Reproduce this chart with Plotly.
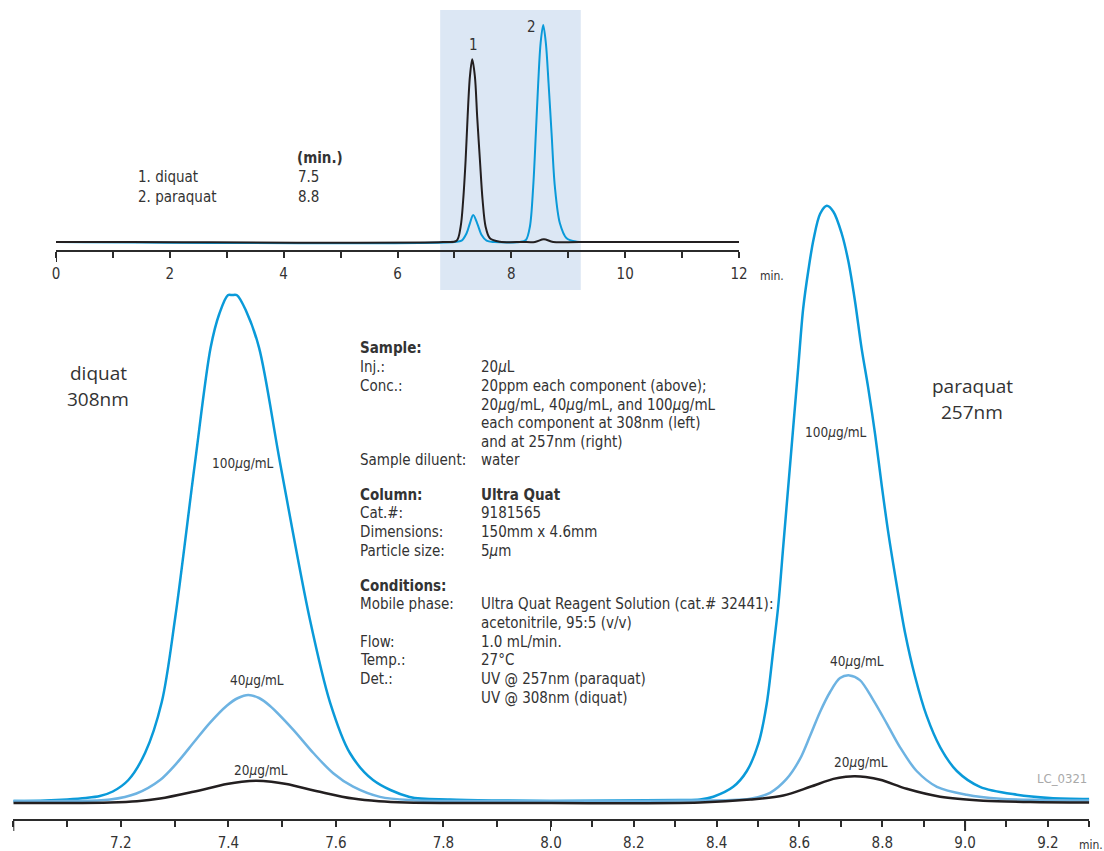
import plotly.graph_objects as go

W, H = 1104, 851

# ---------------- data (response in arbitrary units) ----------------
# Overview chromatogram 0-12 min
top_black_t = [0.0, 1.3, 6.8, 7.038, 7.109, 7.154, 7.197, 7.232, 7.272, 7.313, 7.360, 7.400,
               7.448, 7.495, 7.548, 7.623, 7.799, 8.2, 8.414, 8.572, 8.735, 9.2, 12.0]
top_black_y = [0, 0, 0, 1.3, 15.3, 42, 82, 125.3, 165.3, 182.7, 165.3, 125.3,
               82, 42, 15.3, 3.7, 0.3, 0, 0, 2.7, 0, 0, 0]
top_blue_t = [0.0, 7.0, 7.126, 7.214, 7.272, 7.330, 7.400, 7.478, 7.565, 7.7, 8.15, 8.256,
              8.326, 8.384, 8.431, 8.472, 8.514, 8.560, 8.607, 8.654, 8.707, 8.765, 8.853,
              8.971, 9.146, 9.4, 12.0]
top_blue_y = [0, 0, 1.3, 8.7, 18.7, 27, 18.7, 7, 1.3, 0, 0, 2,
              15.3, 55.3, 108.7, 158.7, 198.7, 217, 198.7, 158.7, 108.7, 55.3, 18.7,
              3.7, 0.3, 0, 0]

# Diquat at 308nm (left expanded axis, 7.0-8.0 min)
dq100_t = [7.000, 7.060, 7.100, 7.135, 7.161, 7.185, 7.214, 7.245, 7.276, 7.301, 7.338, 7.367,
           7.383, 7.399, 7.407, 7.416, 7.433, 7.457, 7.496, 7.551, 7.589, 7.626, 7.669, 7.737,
           7.812, 7.905, 8.000]
dq100_y = [0, 0.5, 1.5, 3, 5, 9.5, 21, 48, 98.7, 183, 338.6, 453.4,
           487, 505.8, 506, 505.8, 490, 453.4, 338.6, 183, 98.7, 48, 21, 4,
           1.5, 0.5, 0]
dq40_t = [7.000, 7.100, 7.180, 7.229, 7.273, 7.304, 7.335, 7.366, 7.397, 7.418, 7.437, 7.457,
          7.477, 7.520, 7.558, 7.595, 7.632, 7.682, 7.743, 7.849, 8.000]
dq40_y = [0, 0, 1.5, 7.5, 21, 37.9, 58.2, 78.4, 95.3, 103, 106, 103,
          95.3, 71.7, 48, 27.8, 14.3, 4.1, 0.8, 0, 0]
dq20_t = [7.000, 7.100, 7.180, 7.230, 7.273, 7.335, 7.397, 7.425, 7.452, 7.480, 7.508, 7.570,
          7.632, 7.680, 7.730, 7.850, 8.000]
dq20_y = [-2, -2, -1.5, -0.3, 2.4, 9.2, 16.9, 19.3, 20.3, 19.3, 16.9, 9.2,
          2.4, -0.3, -1.5, -2, -2]

# Paraquat at 257nm (right expanded axis, 8.0-9.3 min)
pq100_t = [8.000, 8.167, 8.312, 8.360, 8.392, 8.440, 8.473, 8.501, 8.521, 8.537, 8.549, 8.561,
           8.573, 8.585, 8.597, 8.609, 8.622, 8.634, 8.650, 8.666, 8.682, 8.702, 8.718, 8.734,
           8.750, 8.766, 8.783, 8.799, 8.815, 8.835, 8.855, 8.879, 8.907, 8.940, 8.980, 9.036,
           9.125, 9.205, 9.300]
pq100_y = [0, 0.5, 1, 1.5, 4.3, 14.2, 30, 57.6, 97.2, 152, 196, 255.3,
           314.6, 373.8, 433.1, 492.4, 532, 561.6, 587.3, 595.2, 589.3, 567.5, 539.9, 500.3,
           452.9, 413.4, 365.9, 314.6, 267.1, 215.8, 168.3, 124.8, 85.3, 53.7, 30, 14.2,
           6.3, 3, 2]
pq40_t = [8.000, 8.312, 8.481, 8.529, 8.569, 8.601, 8.626, 8.650, 8.674, 8.698, 8.721, 8.746,
          8.778, 8.811, 8.843, 8.883, 8.932, 9.004, 9.085, 9.181, 9.300]
pq40_y = [0, 0.5, 2.3, 8.2, 22.1, 41.8, 65.5, 89.3, 109, 122.9, 125.6, 120.9,
          101.1, 77.4, 53.7, 30, 14.2, 6.3, 2.3, 1, 0.5]
pq20_t = [8.000, 8.360, 8.481, 8.561, 8.626, 8.682, 8.712, 8.734, 8.760, 8.795, 8.859, 8.940,
          9.044, 9.157, 9.300]
pq20_y = [-2, -1.5, 1.5, 5.5, 14.2, 22.1, 24.3, 24.8, 24, 21.3, 12.2, 4.3,
          0.3, -1, -1.5]

# tick labels
top_ticks = [0, 2, 4, 6, 8, 10, 12]
left_ticks = [7.2, 7.4, 7.6, 7.8, 8.0]
right_ticks = [8.2, 8.4, 8.6, 8.8, 9.0, 9.2]
long_ticks_left = [7.0, 8.0]
long_ticks_right = [9.0]

peak_names = ["1. diquat", "2. paraquat"]
peak_times = ["7.5", "8.8"]
conc_labels = ["100<i>μ</i>g/mL", "40<i>μ</i>g/mL", "20<i>μ</i>g/mL"]

# ---------------- styling ----------------
C100 = "#0a9ad9"
C40 = "#6db3e2"
CBLK = "#231f20"
TXT = "#333333"
AX = "#2b2b2b"
NARROW = "DejaVu Sans Condensed, Liberation Sans Narrow, sans-serif"
OPEN = "Open Sans, DejaVu Sans, sans-serif"


def px(x):
    return x / W


def py(y):
    return 1 - y / H


fig = go.Figure()

SPL = dict(shape="spline", smoothing=0.9)

# overview traces
fig.add_trace(go.Scatter(x=top_blue_t, y=top_blue_y, mode="lines", xaxis="x", yaxis="y",
                         line=dict(color=C100, width=2, **SPL), hoverinfo="skip"))
fig.add_trace(go.Scatter(x=top_black_t, y=top_black_y, mode="lines", xaxis="x", yaxis="y",
                         line=dict(color=CBLK, width=2, **SPL), hoverinfo="skip"))

# expanded traces
for t, v, c in [(dq100_t, dq100_y, C100), (dq40_t, dq40_y, C40), (dq20_t, dq20_y, CBLK)]:
    fig.add_trace(go.Scatter(x=t, y=v, mode="lines", xaxis="x2", yaxis="y2",
                             line=dict(color=c, width=2.5, **SPL), hoverinfo="skip"))
for t, v, c in [(pq100_t, pq100_y, C100), (pq40_t, pq40_y, C40), (pq20_t, pq20_y, CBLK)]:
    fig.add_trace(go.Scatter(x=t, y=v, mode="lines", xaxis="x3", yaxis="y2",
                             line=dict(color=c, width=2.5, **SPL), hoverinfo="skip"))

tickfont = dict(family=NARROW, size=15, color=TXT)
common_x = dict(showline=True, linecolor=AX, linewidth=2, ticks="outside", ticklen=6,
                tickwidth=2, tickcolor=AX, showgrid=False, zeroline=False,
                tickfont=tickfont, ticklabelstandoff=3, fixedrange=True, automargin=False)

fig.update_layout(
    width=W, height=H,
    margin=dict(l=0, r=0, t=0, b=0, pad=0, autoexpand=False),
    paper_bgcolor="white", plot_bgcolor="rgba(0,0,0,0)",
    showlegend=False,
    xaxis=dict(domain=[px(56), px(739)], range=[0, 12], anchor="y",
               tickmode="array", tickvals=top_ticks,
               minor=dict(tickmode="linear", tick0=0, dtick=1, ticklen=6, tickwidth=2,
                          tickcolor=AX, ticks="outside", showgrid=False),
               **common_x),
    yaxis=dict(domain=[py(250), py(10)], range=[-8, 232], visible=False, fixedrange=True),
    xaxis2=dict(domain=[px(13.3), px(551)], range=[7.0, 8.0], anchor="y2",
                tickmode="array", tickvals=left_ticks, tickformat=".1f",
                minor=dict(tickmode="linear", tick0=7.0, dtick=0.1, ticklen=6, tickwidth=2,
                           tickcolor=AX, ticks="outside", showgrid=False),
                **common_x),
    xaxis3=dict(domain=[px(551), px(1089.3)], range=[8.0, 9.3], anchor="y2",
                tickmode="array", tickvals=right_ticks, tickformat=".1f",
                minor=dict(tickmode="linear", tick0=8.0, dtick=0.1, ticklen=6, tickwidth=2,
                           tickcolor=AX, ticks="outside", showgrid=False),
                **common_x),
    yaxis2=dict(domain=[py(819), py(195)], range=[-18, 606], visible=False, fixedrange=True,
                anchor="x2"),
)

shapes = [
    dict(type="rect", xref="x", yref="paper", x0=6.75, x1=9.22, y0=py(290), y1=py(10),
         fillcolor="#dce7f4", line=dict(width=0), layer="below"),
    dict(type="line", xref="x", yref="paper", x0=0, x1=0, y0=py(250), y1=py(262),
         line=dict(color=AX, width=2)),
]
for v in long_ticks_left:
    shapes.append(dict(type="line", xref="x2", yref="paper", x0=v, x1=v, y0=py(819), y1=py(831),
                       line=dict(color=AX, width=2)))
for v in long_ticks_right:
    shapes.append(dict(type="line", xref="x3", yref="paper", x0=v, x1=v, y0=py(819), y1=py(831),
                       line=dict(color=AX, width=2)))
fig.update_layout(shapes=shapes)

ann = []


def add(text, x, y, size=15, family=NARROW, color=TXT, xanchor="left"):
    ann.append(dict(text=text, x=px(x), y=py(y), xref="paper", yref="paper",
                    xanchor=xanchor, yanchor="middle", showarrow=False,
                    font=dict(family=family, size=size, color=color)))


# overview labels
add("1", 473, 45, xanchor="center")
add("2", 531, 27, xanchor="center")
add("<b>(min.)</b>", 295, 158)
add(peak_names[0], 136, 177)
add(peak_names[1], 136, 197)
add(peak_times[0], 296, 177)
add(peak_times[1], 296, 197)
add("min.", 772, 276, size=12, xanchor="center")
add("min.", 1091, 845, size=12, xanchor="center")

# compound / wavelength labels
add("diquat", 98, 373, size=19, family=OPEN, xanchor="center")
add("308nm", 98, 399, size=19, family=OPEN, xanchor="center")
add("paraquat", 972, 386, size=19, family=OPEN, xanchor="center")
add("257nm", 972, 412, size=19, family=OPEN, xanchor="center")

# concentration labels
add(conc_labels[0], 243, 463, size=13.5, xanchor="center")
add(conc_labels[1], 257, 680, size=13.5, xanchor="center")
add(conc_labels[2], 261, 770, size=13.5, xanchor="center")
add(conc_labels[0], 836, 432, size=13.5, xanchor="center")
add(conc_labels[1], 857, 661, size=13.5, xanchor="center")
add(conc_labels[2], 861, 762, size=13.5, xanchor="center")

add("LC_0321", 1062, 778, size=13, color="#a9a9a9", xanchor="center")

# conditions block
info_rows = [
    ("<b>Sample:</b>", ""),
    ("Inj.:", "20<i>μ</i>L"),
    ("Conc.:", "20ppm each component (above);"),
    ("", "20<i>μ</i>g/mL, 40<i>μ</i>g/mL, and 100<i>μ</i>g/mL"),
    ("", "each component at 308nm (left)"),
    ("", "and at 257nm (right)"),
    ("Sample diluent:", "water"),
    ("<b>Column:</b>", "<b>Ultra Quat</b>"),
    ("Cat.#:", "9181565"),
    ("Dimensions:", "150mm x 4.6mm"),
    ("Particle size:", "5<i>μ</i>m"),
    ("<b>Conditions:</b>", ""),
    ("Mobile phase:", "Ultra Quat Reagent Solution (cat.# 32441):"),
    ("", "acetonitrile, 95:5 (v/v)"),
    ("Flow:", "1.0 mL/min."),
    ("Temp.:", "27°C"),
    ("Det.:", "UV @ 257nm (paraquat)"),
    ("", "UV @ 308nm (diquat)"),
]
row_y = [348, 367, 386, 405, 423, 442, 460, 495, 513, 532, 551, 586, 604, 623, 642, 660, 679, 698]
for (lt, rt), yy in zip(info_rows, row_y):
    if lt:
        add(lt, 358, yy)
    if rt:
        add(rt, 479, yy)

fig.update_layout(annotations=ann)

fig.write_html("out.html",
               config={"displayModeBar": False, "staticPlot": True},
               post_script="document.body.style.margin='0px';document.body.style.overflow='hidden';")
